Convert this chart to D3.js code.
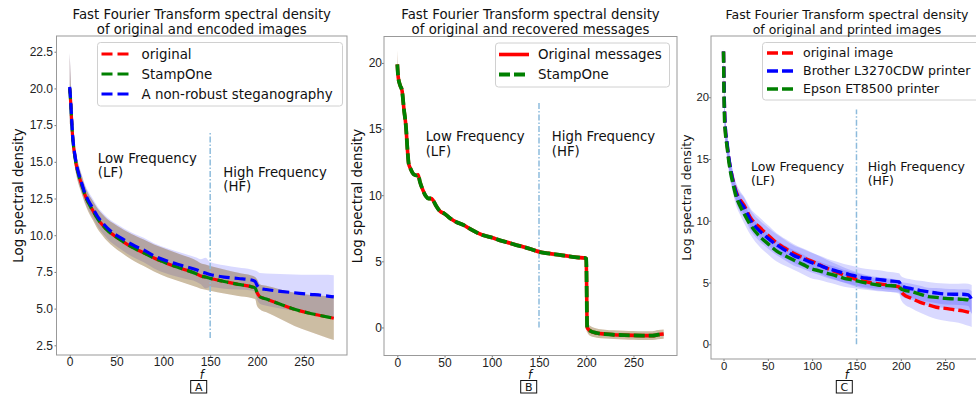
<!DOCTYPE html>
<html>
<head>
<meta charset="utf-8">
<script src="https://cdn.jsdelivr.net/npm/d3@7"></script>
<style>
  body { margin: 0; background: #fff; }
  svg { font-family: "DejaVu Sans", sans-serif; }
</style>
</head>
<body>
<svg id="chart" width="976" height="396"></svg>
<script>
// ---- Panel A: original vs encoded images ----
const fA = [0,1,2,3,5,7,10,13,16,20,25,30,35,40,47,55,61,70,79,90,104,120,136,140,145,150,165,180,194,198,200,203,210,225,240,255,270,282];
const origA = [20.0,19.1,17.9,16.8,15.6,14.8,14.0,13.4,12.8,12.2,11.65,11.1,10.7,10.35,10.0,9.65,9.4,9.08,8.8,8.45,8.08,7.72,7.35,7.22,7.15,7.06,6.85,6.65,6.49,6.4,6.1,5.81,5.65,5.3,4.95,4.7,4.5,4.34];
const stampA = [20.0,19.1,17.9,16.8,15.6,14.8,14.0,13.4,12.8,12.2,11.65,11.1,10.7,10.35,10.0,9.65,9.4,9.08,8.8,8.45,8.08,7.72,7.35,7.22,7.15,7.06,6.85,6.65,6.49,6.4,6.1,5.81,5.65,5.3,4.95,4.7,4.5,4.34];
const nonRobA = [20.1,19.2,18.0,16.9,15.7,14.9,14.1,13.5,12.9,12.35,11.8,11.25,10.85,10.5,10.13,9.8,9.56,9.25,8.99,8.6,8.24,7.93,7.63,7.51,7.42,7.32,7.15,7.05,6.95,6.85,6.6,6.38,6.3,6.18,6.08,5.98,5.9,5.8];
const stdOrigA = [2.4,1.6,1.1,0.9,0.75,0.7,0.65,0.62,0.6,0.62,0.65,0.7,0.72,0.75,0.8,0.83,0.85,0.88,0.9,0.92,0.95,0.93,0.9,0.87,0.86,0.85,0.82,0.79,0.76,0.75,0.9,0.85,0.9,1.0,1.13,1.25,1.38,1.48];
const stdStampA = [2.4,1.6,1.1,0.9,0.75,0.7,0.65,0.62,0.6,0.62,0.65,0.7,0.72,0.75,0.8,0.83,0.85,0.88,0.9,0.92,0.95,0.93,0.9,0.87,0.86,0.85,0.82,0.79,0.76,0.75,0.9,0.85,0.9,1.0,1.13,1.25,1.38,1.48];
const stdNonRobA = [2.4,1.6,1.1,0.9,0.75,0.7,0.65,0.62,0.6,0.62,0.65,0.68,0.7,0.72,0.75,0.78,0.8,0.82,0.84,0.86,0.87,0.85,0.83,0.85,1.05,0.85,0.8,0.75,0.72,0.75,0.95,1.05,1.1,1.18,1.25,1.32,1.4,1.48];

// ---- Panel B: original vs recovered messages ----
const fB = [0,1,3,5,7,9,11,12,14,17,20,22,24,27,30,33,36,38,41,45,50,56,63,70,77,85,92,100,108,116,125,133,141,151,160,170,180,190,199,200,201,204,211,220,229,240,250,260,270,276,282];
const origB = [19.9,18.9,18.3,17.9,16.5,15.3,13.2,12.4,12.0,11.6,11.5,11.55,11.0,10.4,9.95,9.75,9.75,9.6,9.2,8.8,8.6,8.25,7.95,7.75,7.45,7.15,6.95,6.8,6.6,6.45,6.25,6.1,5.93,5.7,5.6,5.5,5.4,5.3,5.25,5.2,0.0,-0.25,-0.42,-0.5,-0.55,-0.58,-0.6,-0.62,-0.62,-0.55,-0.5];
const stampB = [19.9,18.9,18.3,17.9,16.5,15.3,13.2,12.4,12.0,11.6,11.5,11.55,11.0,10.4,9.95,9.75,9.75,9.6,9.2,8.8,8.6,8.25,7.95,7.75,7.45,7.15,6.95,6.8,6.6,6.45,6.25,6.1,5.93,5.7,5.6,5.5,5.4,5.3,5.25,5.2,0.0,-0.25,-0.42,-0.5,-0.55,-0.58,-0.6,-0.62,-0.62,-0.55,-0.5];
const stdB = [1.1,0.5,0.2,0.15,0.15,0.15,0.15,0.15,0.15,0.15,0.15,0.15,0.15,0.15,0.15,0.15,0.15,0.15,0.15,0.15,0.15,0.15,0.15,0.15,0.15,0.15,0.15,0.15,0.15,0.15,0.15,0.15,0.15,0.15,0.15,0.15,0.15,0.15,0.15,0.2,0.35,0.38,0.35,0.33,0.33,0.33,0.33,0.33,0.33,0.35,0.35];

// ---- Panel C: original vs printed images ----
const fC = [0,1,2,4,6,8,11,14,18,23,30,42,50,60,70,79,90,98,108,117,127,136,146,155,165,174,185,198,200,203,212,222,231,240,250,260,270,276,280];
const origC = [23.7,19.5,17.5,16.2,15.0,14.2,13.2,12.4,11.8,11.28,10.3,9.39,8.85,8.2,7.75,7.37,7.0,6.77,6.45,6.15,5.85,5.6,5.35,5.15,5.0,4.9,4.8,4.65,4.35,4.05,3.72,3.4,3.18,3.0,2.91,2.8,2.7,2.6,2.5];
const brotherC = [23.7,19.5,17.6,16.3,15.1,14.2,13.1,12.3,11.6,11.1,10.1,9.1,8.6,8.05,7.6,7.2,6.9,6.65,6.4,6.15,5.95,5.75,5.58,5.42,5.33,5.26,5.15,5.05,4.8,4.65,4.5,4.35,4.25,4.15,4.07,4.05,4.05,4.0,3.6];
const epsonC = [23.7,18.5,17.2,16.0,14.8,13.9,12.9,12.0,11.3,10.6,9.7,8.65,8.15,7.55,7.15,6.83,6.45,6.15,5.95,5.75,5.55,5.34,5.2,5.05,4.92,4.8,4.75,4.7,4.5,4.4,4.26,4.05,3.86,3.8,3.72,3.68,3.64,3.6,3.4];
const stdOrigC = [0.3,1.0,1.0,0.9,0.85,0.8,0.75,0.7,0.7,0.7,0.75,0.8,0.8,0.8,0.78,0.76,0.75,0.72,0.7,0.68,0.65,0.62,0.6,0.58,0.55,0.55,0.55,0.55,0.7,0.75,0.8,0.85,0.9,0.95,1.0,1.0,1.05,1.1,1.1];
const stdBrotherC = [0.3,1.0,1.0,0.9,0.85,0.8,0.75,0.75,0.75,0.8,0.82,0.85,0.85,0.85,0.83,0.82,0.8,0.8,0.78,0.78,0.76,0.75,0.75,0.75,0.75,0.75,0.72,0.7,0.75,0.75,0.75,0.8,0.8,0.82,0.85,0.85,0.88,0.9,1.2];
const stdEpsonC = [0.3,1.0,1.0,0.9,0.85,0.8,0.75,0.72,0.72,0.75,0.8,0.85,0.85,0.85,0.82,0.8,0.8,0.78,0.75,0.72,0.7,0.68,0.65,0.6,0.55,0.5,0.5,0.5,0.55,0.6,0.65,0.7,0.72,0.75,0.78,0.8,0.82,0.85,0.9];

const xTicks = [0, 50, 100, 150, 200, 250];
const yTicksA = [2.5, 5.0, 7.5, 10.0, 12.5, 15.0, 17.5, 20.0, 22.5];
const yTicksB = [0, 5, 10, 15, 20];
const yTicksC = [0, 5, 10, 15, 20];

const svg = d3.select("#chart");

function zip(f, v, s) {
    return f.map((x, i) => ({ f: x, v: v[i], s: s ? s[i] : 0 }));
}

function drawPanel(p) {
    const g = svg.append("g");
    const fs = p.fs; // font scale of this panel
    const x = d3.scaleLinear().domain([-14.1, 296.1]).range([p.left, p.right]);
    const y = d3.scaleLinear().domain(p.yDomain).range([p.bottom, p.top]);

    // clip to plot area
    const clipId = `clip-${p.name}`;
    g.append("clipPath").attr("id", clipId)
        .append("rect")
        .attr("x", p.left).attr("y", p.top)
        .attr("width", p.right - p.left).attr("height", p.bottom - p.top);
    const plot = g.append("g").attr("clip-path", `url(#${clipId})`);

    // std bands
    const area = d3.area()
        .x((d) => x(d.f))
        .y0((d) => y(d.v - d.s))
        .y1((d) => y(d.v + d.s))
        .curve(d3.curveMonotoneX);
    p.bands.forEach((b) => {
        plot.append("path")
            .attr("d", area(zip(p.f, b.values, b.std)))
            .attr("fill", b.color)
            .attr("fill-opacity", b.opacity);
    });

    // LF / HF split
    plot.append("line")
        .attr("x1", x(150)).attr("x2", x(150))
        .attr("y1", y(p.vline[0])).attr("y2", y(p.vline[1]))
        .attr("stroke", "#8dbbdc")
        .attr("stroke-width", 1.5)
        .attr("stroke-dasharray", "6,2,1.5,2");

    // mean lines
    const line = d3.line()
        .x((d) => x(d.f))
        .y((d) => y(d.v))
        .curve(d3.curveMonotoneX);
    p.series.forEach((s) => {
        plot.append("path")
            .attr("d", line(zip(p.f, s.values)))
            .attr("fill", "none")
            .attr("stroke", s.color)
            .attr("stroke-width", s.width)
            .attr("stroke-dasharray", s.dash)
            .attr("stroke-dashoffset", s.offset || 0);
    });

    // axes
    const xAxis = g.append("g")
        .attr("transform", `translate(0,${p.bottom})`)
        .call(d3.axisBottom(x).tickValues(xTicks).tickSize(2).tickPadding(0.5));
    const yAxis = g.append("g")
        .attr("transform", `translate(${p.left},0)`)
        .call(d3.axisLeft(y).tickValues(p.yTicks).tickSize(2).tickPadding(p.yPad)
            .tickFormat(p.yFormat));
    [xAxis, yAxis].forEach((a) => {
        a.selectAll("text").style("font-size", `${12 * fs}px`).attr("fill", "#222");
        a.selectAll("line").attr("stroke", "#777");
        a.select(".domain").remove();
    });

    // frame
    g.append("rect")
        .attr("x", p.left).attr("y", p.top)
        .attr("width", p.right - p.left).attr("height", p.bottom - p.top)
        .attr("fill", "none")
        .attr("stroke", "#999")
        .attr("stroke-width", 1);

    // frequency annotations
    p.notes.forEach((n) => {
        const t = g.append("text")
            .attr("x", x(n.f)).attr("y", y(n.v))
            .style("font-size", `${13.3 * fs}px`)
            .attr("fill", "#111");
        t.append("tspan").attr("x", x(n.f)).text(n.lines[0]);
        t.append("tspan").attr("x", x(n.f)).attr("dy", 14.5).text(n.lines[1]);
    });

    // title
    const cx = (p.left + p.right) / 2;
    p.title.forEach((tl, i) => {
        g.append("text")
            .attr("x", p.titleX || cx).attr("y", 19 + i * 15)
            .attr("text-anchor", "middle")
            .style("font-size", `${13.3 * fs}px`)
            .attr("fill", "#111")
            .text(tl);
    });

    // y label
    g.append("text")
        .attr("transform", `translate(${p.yLabelX},${(p.top + p.bottom) / 2}) rotate(-90)`)
        .attr("text-anchor", "middle")
        .attr("dy", "0.35em")
        .style("font-size", `${13.3 * fs}px`)
        .attr("fill", "#111")
        .text("Log spectral density");

    // x label and panel letter
    g.append("text")
        .attr("x", p.fX).attr("y", 378.5)
        .attr("text-anchor", "middle")
        .style("font-size", "11.5px")
        .style("font-style", "italic")
        .attr("fill", "#111")
        .text("f");
    g.append("rect")
        .attr("x", p.boxX - 8).attr("y", 380.5)
        .attr("width", 16).attr("height", 12.5)
        .attr("fill", "white")
        .attr("stroke", "#111")
        .attr("stroke-width", 1);
    g.append("text")
        .attr("x", p.boxX).attr("y", 391)
        .attr("text-anchor", "middle")
        .style("font-size", "11px")
        .attr("fill", "#111")
        .text(p.letter);

    // legend
    const L = p.legend;
    const lg = g.append("g");
    lg.append("rect")
        .attr("x", L.x).attr("y", L.y)
        .attr("width", L.w).attr("height", L.h)
        .attr("rx", 3)
        .attr("fill", "white").attr("fill-opacity", 0.85)
        .attr("stroke", "#d0d0d0").attr("stroke-width", 1);
    p.series.slice().sort((a, b) => a.order - b.order).forEach((s, i) => {
        const ly = L.y + L.first + i * L.step;
        lg.append("line")
            .attr("x1", L.x + L.h0).attr("x2", L.x + L.h1)
            .attr("y1", ly).attr("y2", ly)
            .attr("stroke", s.color)
            .attr("stroke-width", s.width)
            .attr("stroke-dasharray", s.dash);
        lg.append("text")
            .attr("x", L.x + L.tx).attr("y", ly)
            .attr("dy", "0.35em")
            .style("font-size", `${13.4 * fs}px`)
            .attr("fill", "#111")
            .text(s.name);
    });
}

drawPanel({
    name: "A", letter: "A", fs: 1,
    left: 56.5, right: 347, top: 36, bottom: 355,
    yDomain: [1.84, 23.57], yTicks: yTicksA, yFormat: d3.format(".1f"), yPad: 1.5,
    f: fA,
    bands: [
        { values: nonRobA, std: stdNonRobA, color: "#0000ff", opacity: 0.15 },
        { values: origA, std: stdOrigA, color: "#ff0000", opacity: 0.2 },
        { values: stampA, std: stdStampA, color: "#008000", opacity: 0.2 }
    ],
    series: [
        { name: "original", values: origA, color: "#ff0000", width: 3.2, dash: "11,5", offset: 6, order: 0 },
        { name: "StampOne", values: stampA, color: "#008000", width: 3.2, dash: "11,5", order: 1 },
        { name: "A non-robust steganography", values: nonRobA, color: "#0000ff", width: 3.2, dash: "11,5", order: 2 }
    ],
    vline: [3, 17],
    notes: [
        { f: 30, v: 14.95, lines: ["Low Frequency", "(LF)"] },
        { f: 164, v: 13.98, lines: ["High Frequency", "(HF)"] }
    ],
    title: ["Fast Fourier Transform spectral density", "of original and encoded images"],
    yLabelX: 18, fX: 201.7, boxX: 198.7,
    legend: { x: 97.5, y: 42.5, w: 245, h: 63.5, first: 11.5, step: 20, h0: 4, h1: 33.5, tx: 44 }
});

drawPanel({
    name: "B", letter: "B", fs: 1,
    left: 384, right: 677, top: 36.5, bottom: 355.5,
    yDomain: [-2.12, 22.0], yTicks: yTicksB, yFormat: d3.format("d"), yPad: 0,
    f: fB,
    bands: [
        { values: origB, std: stdB, color: "#ff0000", opacity: 0.2 },
        { values: stampB, std: stdB, color: "#008000", opacity: 0.2 }
    ],
    series: [
        { name: "Original messages", values: origB, color: "#ff0000", width: 3.6, dash: null, order: 0 },
        { name: "StampOne", values: stampB, color: "#008000", width: 3.8, dash: "11,4", order: 1 }
    ],
    vline: [0, 17],
    notes: [
        { f: 30, v: 14.07, lines: ["Low Frequency", "(LF)"] },
        { f: 163.5, v: 14.07, lines: ["High Frequency", "(HF)"] }
    ],
    title: ["Fast Fourier Transform spectral density", "of original and recovered messages"],
    yLabelX: 357, fX: 530, boxX: 528.7,
    legend: { x: 495.5, y: 43, w: 174, h: 44, first: 11.5, step: 20, h0: 3.5, h1: 33.5, tx: 42.5 }
});

drawPanel({
    name: "C", letter: "C", fs: 0.94,
    left: 711, right: 986, top: 36, bottom: 359,
    yDomain: [-1.19, 24.96], yTicks: yTicksC, yFormat: d3.format("d"), yPad: 0,
    f: fC,
    bands: [
        { values: origC, std: stdOrigC, color: "#0000ff", opacity: 0.15 },
        { values: brotherC, std: stdBrotherC, color: "#0000ff", opacity: 0.15 },
        { values: epsonC, std: stdEpsonC, color: "#0000ff", opacity: 0.15 }
    ],
    series: [
        { name: "original image", values: origC, color: "#ff0000", width: 3.4, dash: "11,4", order: 0 },
        { name: "Brother L3270CDW printer", values: brotherC, color: "#0000ff", width: 3.4, dash: "11,4", order: 1 },
        { name: "Epson ET8500 printer", values: epsonC, color: "#008000", width: 3.4, dash: "11,4", order: 2 }
    ],
    vline: [0, 19],
    notes: [
        { f: 31, v: 14.06, lines: ["Low Frequency", "(LF)"] },
        { f: 162.6, v: 14.06, lines: ["High Frequency", "(HF)"] }
    ],
    title: ["Fast Fourier Transform spectral density", "of original and printed images"],
    titleX: 847, yLabelX: 687, fX: 846.7, boxX: 844.3,
    legend: { x: 762.5, y: 42.5, w: 220, h: 57.5, first: 10.5, step: 18, h0: 4.5, h1: 30.5, tx: 40.5 }
});
</script>
</body>
</html>
